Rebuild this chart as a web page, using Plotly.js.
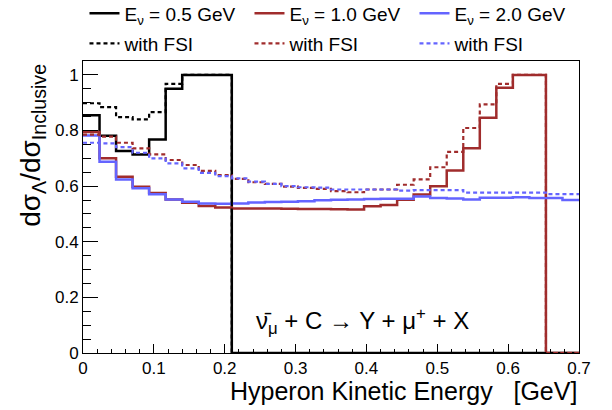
<!DOCTYPE html>
<html>
<head>
<meta charset="utf-8">
<script src="https://cdn.plot.ly/plotly-3.0.1.min.js"></script>
<style>html,body{margin:0;padding:0;background:#fff;}</style>
</head>
<body>
<div id="chart" style="width:612px;height:410px;"></div>
<script>
// Histogram binning (30 bins from 0 to 0.7 GeV)
const xMin = 0;
const xMax = 0.7;
const nBins = 30;

// Legend labels
const labelE05 = "E<sub>ν</sub> = 0.5 GeV";
const labelE10 = "E<sub>ν</sub> = 1.0 GeV";
const labelE20 = "E<sub>ν</sub> = 2.0 GeV";
const labelFSI = "with FSI";

// dσ_Λ/dσ_Inclusive per bin
const e05 = [0.855, 0.781, 0.726, 0.714, 0.768, 0.950, 1.0, 1.0, 1.0,
  0, 0, 0, 0, 0, 0, 0, 0, 0, 0, 0, 0, 0, 0, 0, 0, 0, 0, 0, 0, 0];
const e05FSI = [0.898, 0.884, 0.848, 0.840, 0.866, 0.968, 1.0, 1.0, 1.0,
  0, 0, 0, 0, 0, 0, 0, 0, 0, 0, 0, 0, 0, 0, 0, 0, 0, 0, 0, 0, 0];
const e10 = [0.795, 0.700, 0.634, 0.598, 0.575, 0.552, 0.540, 0.529, 0.523, 0.520,
  0.520, 0.520, 0.519, 0.518, 0.518, 0.517, 0.516, 0.528, 0.532, 0.551,
  0.570, 0.600, 0.656, 0.736, 0.846, 0.954, 1.0, 1.0, 0, 0];
const e10FSI = [0.785, 0.778, 0.756, 0.736, 0.714, 0.694, 0.676, 0.655, 0.640, 0.626,
  0.614, 0.608, 0.598, 0.594, 0.590, 0.582, 0.578, 0.588, 0.588, 0.605,
  0.624, 0.668, 0.723, 0.809, 0.894, 0.968, 1.0, 1.0, 0, 0];
const e20 = [0.782, 0.688, 0.624, 0.592, 0.571, 0.552, 0.544, 0.538, 0.537, 0.538,
  0.541, 0.543, 0.544, 0.546, 0.549, 0.551, 0.552, 0.554, 0.555, 0.555,
  0.563, 0.557, 0.556, 0.552, 0.558, 0.558, 0.560, 0.557, 0.557, 0.550];
const e20FSI = [0.756, 0.754, 0.740, 0.720, 0.700, 0.682, 0.664, 0.648, 0.636, 0.628,
  0.616, 0.608, 0.600, 0.596, 0.595, 0.588, 0.588, 0.588, 0.588, 0.584,
  0.586, 0.586, 0.586, 0.577, 0.577, 0.577, 0.577, 0.577, 0.571, 0.571];

const binWidth = (xMax - xMin) / nBins;
const edges = [];
for (let i = 0; i <= nBins; i++) edges.push(xMin + i * binWidth);

const cBlack = "#000000";
const cRed = "#a02c2c";
const cBlue = "#6464ff";
const FONT = "Liberation Sans, Arial, Helvetica, sans-serif";

function step(vals, name, color, dashed, legendId, rank) {
  return {
    type: "scatter", mode: "lines",
    x: edges, y: vals.concat([vals[vals.length - 1]]),
    line: {shape: "hv", color: color, width: dashed ? 2.2 : 2.5, dash: dashed ? "4px,3px" : "solid"},
    name: name, legend: legendId, legendrank: rank, hoverinfo: "skip"
  };
}

const data = [
  step(e05, labelE05, cBlack, false, "legend", 1),
  step(e10, labelE10, cRed, false, "legend", 2),
  step(e20, labelE20, cBlue, false, "legend", 3),
  step(e05FSI, labelFSI, cBlack, true, "legend2", 1),
  step(e10FSI, labelFSI, cRed, true, "legend2", 2),
  step(e20FSI, labelFSI, cBlue, true, "legend2", 3)
];

const legendBase = {
  orientation: "h", xanchor: "left", x: 0.003, yanchor: "middle",
  entrywidth: 120, entrywidthmode: "pixels", itemwidth: 30,
  bgcolor: "rgba(0,0,0,0)", borderwidth: 0,
  font: {family: FONT, size: 19, color: "#000"}
};

const layout = {
  width: 612, height: 410,
  margin: {l: 83, r: 33, t: 61, b: 57, autoexpand: false},
  paper_bgcolor: "#fff", plot_bgcolor: "#fff",
  showlegend: true,
  legend: Object.assign({}, legendBase, {y: 1.163}),
  legend2: Object.assign({}, legendBase, {y: 1.06}),
  xaxis: {
    range: [xMin, xMax], showgrid: false, zeroline: false, automargin: false,
    showline: true, linecolor: "#000", linewidth: 1, mirror: true,
    ticks: "inside", ticklen: 9, tickcolor: "#000", tick0: 0, dtick: 0.1,
    minor: {ticks: "inside", dtick: 0.02, ticklen: 4.5, tickcolor: "#000", showgrid: false},
    tickfont: {family: FONT, size: 17, color: "#000"}
  },
  yaxis: {
    range: [0, 1.05], showgrid: false, zeroline: false, automargin: false,
    showline: true, linecolor: "#000", linewidth: 1, mirror: true,
    ticks: "inside", ticklen: 15, tickcolor: "#000", tick0: 0, dtick: 0.2,
    minor: {ticks: "inside", dtick: 0.05, ticklen: 7.5, tickcolor: "#000", showgrid: false},
    tickfont: {family: FONT, size: 17, color: "#000"}
  },
  annotations: [
    {text: "dσ<sub>Λ</sub>/dσ<sub>Inclusive</sub>", textangle: -90,
     xref: "paper", yref: "paper", x: -0.102, y: 0.997, xanchor: "center", yanchor: "top",
     showarrow: false, font: {family: FONT, size: 28, color: "#000"}},
    {text: "Hyperon Kinetic Energy\u00a0\u00a0\u00a0[GeV]",
     xref: "paper", yref: "paper", x: 1.0, y: -0.13, xanchor: "right", yanchor: "middle",
     showarrow: false, font: {family: FONT, size: 25, color: "#000"}},
    {text: "ν\u0304<sub>μ</sub> + C → Y + μ<sup>+</sup> + X",
     xref: "paper", yref: "paper", x: 0.564, y: 0.109, xanchor: "center", yanchor: "middle",
     showarrow: false, font: {family: FONT, size: 24, color: "#000"}}
  ]
};

Plotly.newPlot("chart", data, layout, {displayModeBar: false, staticPlot: true});
</script>
</body>
</html>
